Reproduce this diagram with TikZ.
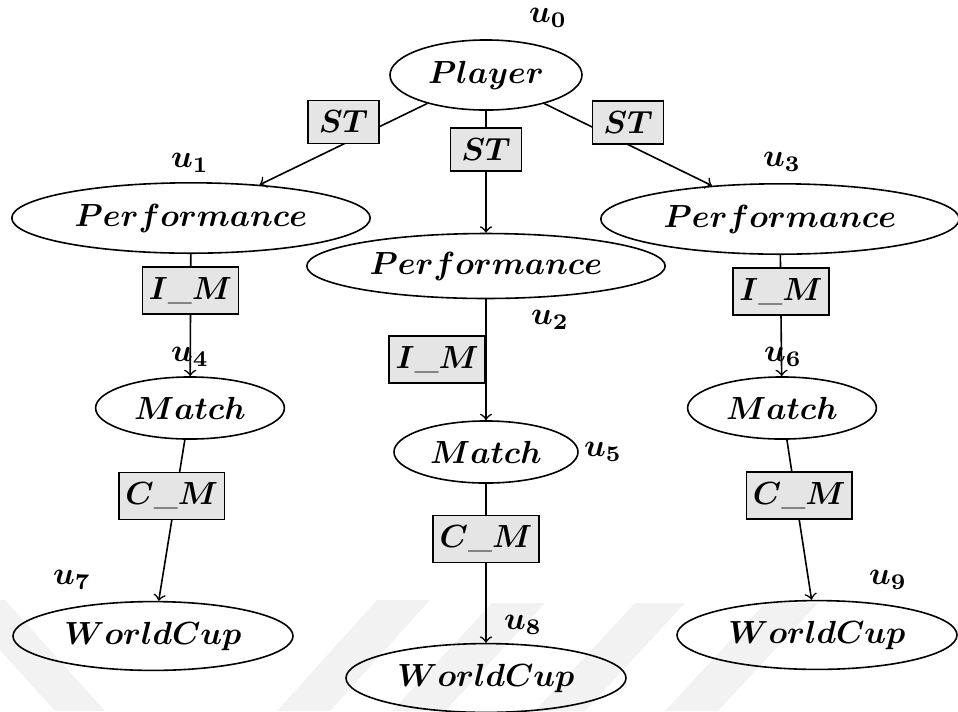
\documentclass[tikz,border=0pt]{standalone}
\usepackage{bm}
\usetikzlibrary{shapes.geometric}

\begin{document}
\begin{tikzpicture}[x=0.3125pt, y=-0.3125pt, line width=0.5pt,
  ent/.style={draw, ellipse, inner sep=0pt},
  entwide/.style={ent, minimum width=112pt, minimum height=22pt},
  entsmall/.style={ent, minimum width=59pt, minimum height=19.4pt},
  entcup/.style={ent, minimum width=87.5pt, minimum height=21.5pt},
  entroot/.style={ent, minimum width=60pt, minimum height=21.9pt},
  rel/.style={draw, fill=black!10, inner sep=0pt, minimum height=14.7pt},
  stbox/.style={rel, minimum width=22.2pt, minimum height=13.4pt},
  imbox/.style={rel, minimum width=30pt},
  cmbox/.style={rel, minimum width=33pt},
  wmark/.style={fill=black!5, draw=none}
]
\useasboundingbox (0,0) rectangle (958,711);

% faint watermark stripes behind the graph
\begin{scope}
  \clip (0,0) rectangle (958,711);
  \fill[wmark] (-45,600) -- (5,600) -- (105,711) -- (55,711) -- cycle;
  \fill[wmark] (377,600) -- (430,600) -- (330,711) -- (277,711) -- cycle;
  \fill[wmark] (492,603) -- (545,603) -- (445,711) -- (392,711) -- cycle;
  \fill[wmark] (635,603) -- (685,603) -- (585,711) -- (535,711) -- cycle;
  \fill[wmark] (765,603) -- (818,603) -- (718,711) -- (665,711) -- cycle;
\end{scope}

% entity nodes
\node[entroot]  (player) at (486,75)  {$\bm{Player}$};
\node[entwide]  (perf1)  at (191,218) {$\bm{Performance}$};
\node[entwide, minimum height=20.3pt] (perf2) at (486,266) {$\bm{Performance}$};
\node[entwide]  (perf3)  at (780,219) {$\bm{Performance}$};
\node[entsmall] (match1) at (190,408) {$\bm{Match}$};
\node[entsmall, minimum width=57.5pt] (match2) at (486,452) {$\bm{Match}$};
\node[entsmall] (match3) at (782,408) {$\bm{Match}$};
\node[entcup]   (wc1)    at (153,636) {$\bm{WorldCup}$};
\node[entcup]   (wc2)    at (486,678) {$\bm{WorldCup}$};
\node[entcup]   (wc3)    at (817,635) {$\bm{WorldCup}$};

% vertex names
\node (n0) at (548,18)  {$\bm{u_0}$};
\node (n1) at (190,163) {$\bm{u_1}$};
\node (n2) at (550,320) {$\bm{u_2}$};
\node (n3) at (782,162) {$\bm{u_3}$};
\node (n4) at (190,357) {$\bm{u_4}$};
\node (n5) at (603,452) {$\bm{u_5}$};
\node (n6) at (783,357) {$\bm{u_6}$};
\node (n7) at (72,580)  {$\bm{u_7}$};
\node (n8) at (523,625) {$\bm{u_8}$};
\node (n9) at (888,580) {$\bm{u_9}$};

% relations
\draw[->] (player) -- node[stbox, above] {$\bm{ST}$} (perf1);
\draw[->] (player) -- node[stbox, above] {$\bm{ST}$} (perf2);
\draw[->] (player) -- node[stbox, above] {$\bm{ST}$} (perf3);

\draw[->] (perf1) -- node[imbox, above] {$\bm{I\_M}$} (match1);
\draw[->] (perf2) -- node[imbox, left]  {$\bm{I\_M}$} (match2);
\draw[->] (perf3) -- node[imbox, above] {$\bm{I\_M}$} (match3);

\draw[->] (match1) -- node[cmbox, above] {$\bm{C\_M}$} (wc1);
\draw[->] (match2) -- node[cmbox, above] {$\bm{C\_M}$} (wc2);
\draw[->] (match3) -- node[cmbox, above] {$\bm{C\_M}$} (wc3);
\end{tikzpicture}
\end{document}
